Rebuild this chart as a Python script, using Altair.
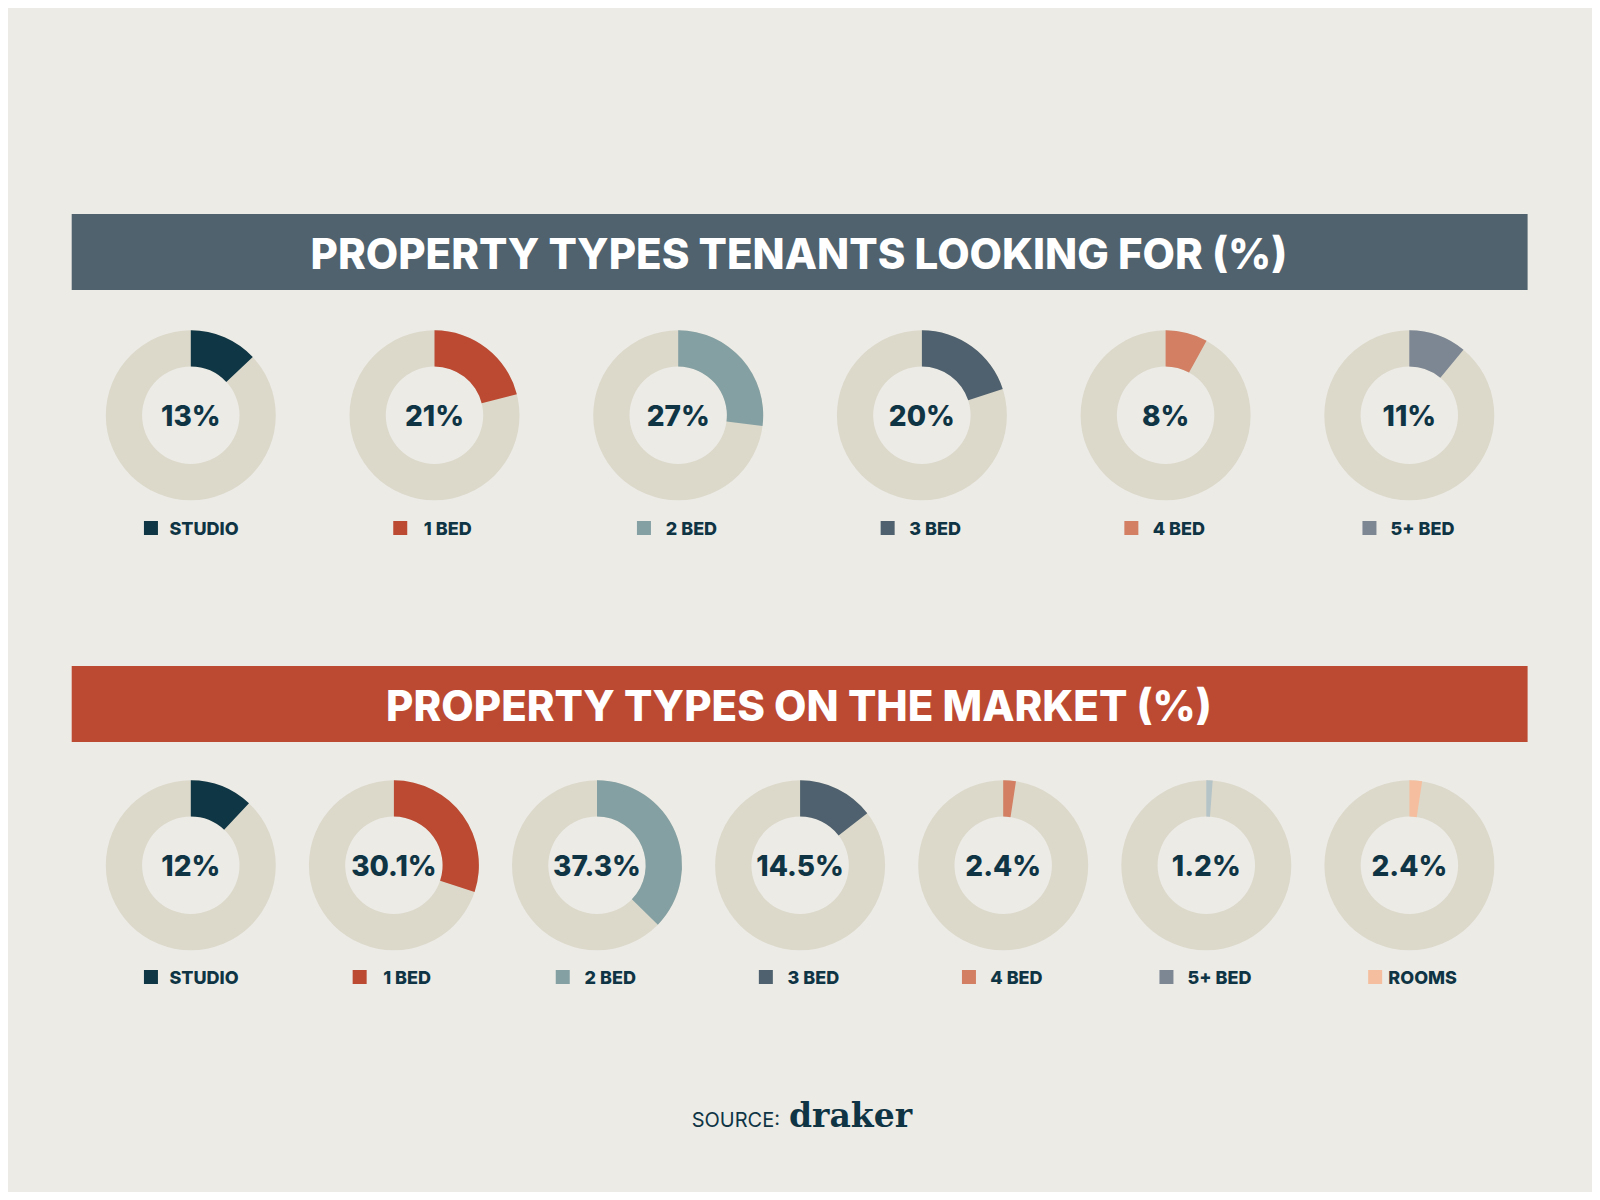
import altair as alt
import pandas as pd

# ---------------- data ----------------
TENANT_TITLE = "PROPERTY TYPES TENANTS LOOKING FOR (%)"
MARKET_TITLE = "PROPERTY TYPES ON THE MARKET (%)"

TENANT_CATS = ["STUDIO", "1 BED", "2 BED", "3 BED", "4 BED", "5+ BED"]
TENANT_VALUES = [13, 21, 27, 20, 8, 11]

MARKET_CATS = ["STUDIO", "1 BED", "2 BED", "3 BED", "4 BED", "5+ BED", "ROOMS"]
MARKET_VALUES = [12, 30.1, 37.3, 14.5, 2.4, 1.2, 2.4]

SOURCE_LABEL = "SOURCE:"
SOURCE_NAME = "draker"

# ---------------- styles ----------------
CAT_ORDER = ["STUDIO", "1 BED", "2 BED", "3 BED", "4 BED", "5+ BED", "ROOMS", "5+ BED (slice)"]
CAT_COLORS = ["#0f3645", "#bc4a32", "#84a0a3", "#4f616e", "#d27f63", "#7d8794", "#f5bf9f", "#b5c4c7"]
BG = "#ecebe6"
RING = "#dcd9cb"
INK = "#0f3545"
BAR1 = "#50626e"
BAR2 = "#bc4a32"
FONT = "Inter"

W, H = 1584, 1184

rows = []
for i, (c, v) in enumerate(zip(TENANT_CATS, TENANT_VALUES)):
    rows.append({"panel": "tenant", "idx": i, "cat": c, "value": v})
for i, (c, v) in enumerate(zip(MARKET_CATS, MARKET_VALUES)):
    rows.append({"panel": "market", "idx": i, "cat": c, "value": v})
df = pd.DataFrame(rows)

xs = alt.Scale(domain=[0, W], range=[0, W])
ys = alt.Scale(domain=[0, H], range=[0, H])
ts = alt.Scale(domain=[0, 100], range=[0, 6.283185307179586])
cs = alt.Scale(domain=CAT_ORDER, range=CAT_COLORS)

base = alt.Chart(df).transform_calculate(
    cx="datum.panel == 'tenant' ? 182.8 + datum.idx * 243.7 : 182.8 + datum.idx * 203.1",
    cy="datum.panel == 'tenant' ? 407.3 : 857.3",
    ly="datum.panel == 'tenant' ? 527 : 976",
    start="0",
    full="100",
    label="datum.value + '%'",
    pcty="datum.cy + 10.7",
    slice_key="datum.panel == 'market' && datum.cat == '5+ BED' ? '5+ BED (slice)' : datum.cat",
    tw="length(datum.cat) * 11.2",
    sqx="datum.cx - (26.5 + datum.tw) / 2 + 7",
    tx="datum.cx + 13.25",
    sqy="datum.ly - 7",
)

X = alt.X("cx:Q", scale=xs, axis=None)
Y = alt.Y("cy:Q", scale=ys, axis=None)

ring = base.mark_arc(radius=85, radius2=48.7, color=RING).encode(
    x=X, y=Y,
    theta=alt.Theta("start:Q", scale=ts, stack=None),
    theta2="full:Q",
)

slices = base.mark_arc(radius=85, radius2=48.7).encode(
    x=X, y=Y,
    theta=alt.Theta("start:Q", scale=ts, stack=None),
    theta2="value:Q",
    color=alt.Color("slice_key:N", scale=cs, legend=None),
)

pct = base.mark_text(font=FONT, fontWeight=800, fontSize=28, color=INK,
                     baseline="alphabetic", align="center").encode(
    x=X, y=alt.Y("pcty:Q", scale=ys, axis=None), text="label:N"
)

squares = base.mark_square(size=196, filled=True, opacity=1).encode(
    x=alt.X("sqx:Q", scale=xs, axis=None),
    y=alt.Y("sqy:Q", scale=ys, axis=None),
    color=alt.Color("cat:N", scale=cs, legend=None),
)

legend_text = base.mark_text(font=FONT, fontWeight=800, fontSize=18, color=INK,
                             baseline="alphabetic", align="center").encode(
    x=alt.X("tx:Q", scale=xs, axis=None),
    y=alt.Y("ly:Q", scale=ys, axis=None),
    text="cat:N",
)

bar1 = alt.Chart(pd.DataFrame({"t": [TENANT_TITLE]})).mark_rect(color=BAR1).encode(
    x=alt.value(63.7), x2=alt.value(1519.6), y=alt.value(206), y2=alt.value(282)
)
bar1_text = alt.Chart(pd.DataFrame({"t": [TENANT_TITLE]})).mark_text(
    font=FONT, fontWeight=800, fontSize=42, color="white", baseline="alphabetic", align="center"
).encode(x=alt.value(791), y=alt.value(261), text="t:N")

bar2 = alt.Chart(pd.DataFrame({"t": [MARKET_TITLE]})).mark_rect(color=BAR2).encode(
    x=alt.value(63.7), x2=alt.value(1519.6), y=alt.value(658), y2=alt.value(734)
)
bar2_text = alt.Chart(pd.DataFrame({"t": [MARKET_TITLE]})).mark_text(
    font=FONT, fontWeight=800, fontSize=42, color="white", baseline="alphabetic", align="center"
).encode(x=alt.value(791), y=alt.value(713), text="t:N")

src1 = alt.Chart(pd.DataFrame({"t": [SOURCE_LABEL]})).mark_text(
    font=FONT, fontWeight=400, fontSize=20, color=INK, baseline="alphabetic", align="right"
).encode(x=alt.value(772), y=alt.value(1119), text="t:N")
src2 = alt.Chart(pd.DataFrame({"t": [SOURCE_NAME]})).mark_text(
    font="DejaVu Serif", fontWeight="bold", fontSize=33, color=INK, baseline="alphabetic", align="left"
).encode(x=alt.value(781), y=alt.value(1119), text="t:N")

chart = alt.layer(
    bar1, bar1_text, bar2, bar2_text,
    ring, slices, pct, squares, legend_text, src1, src2
).properties(
    width=W, height=H, background=BG, padding=0, autosize="none"
).configure_view(stroke=None)

chart.save("out.html", embed_options={"renderer": "svg", "actions": False})
